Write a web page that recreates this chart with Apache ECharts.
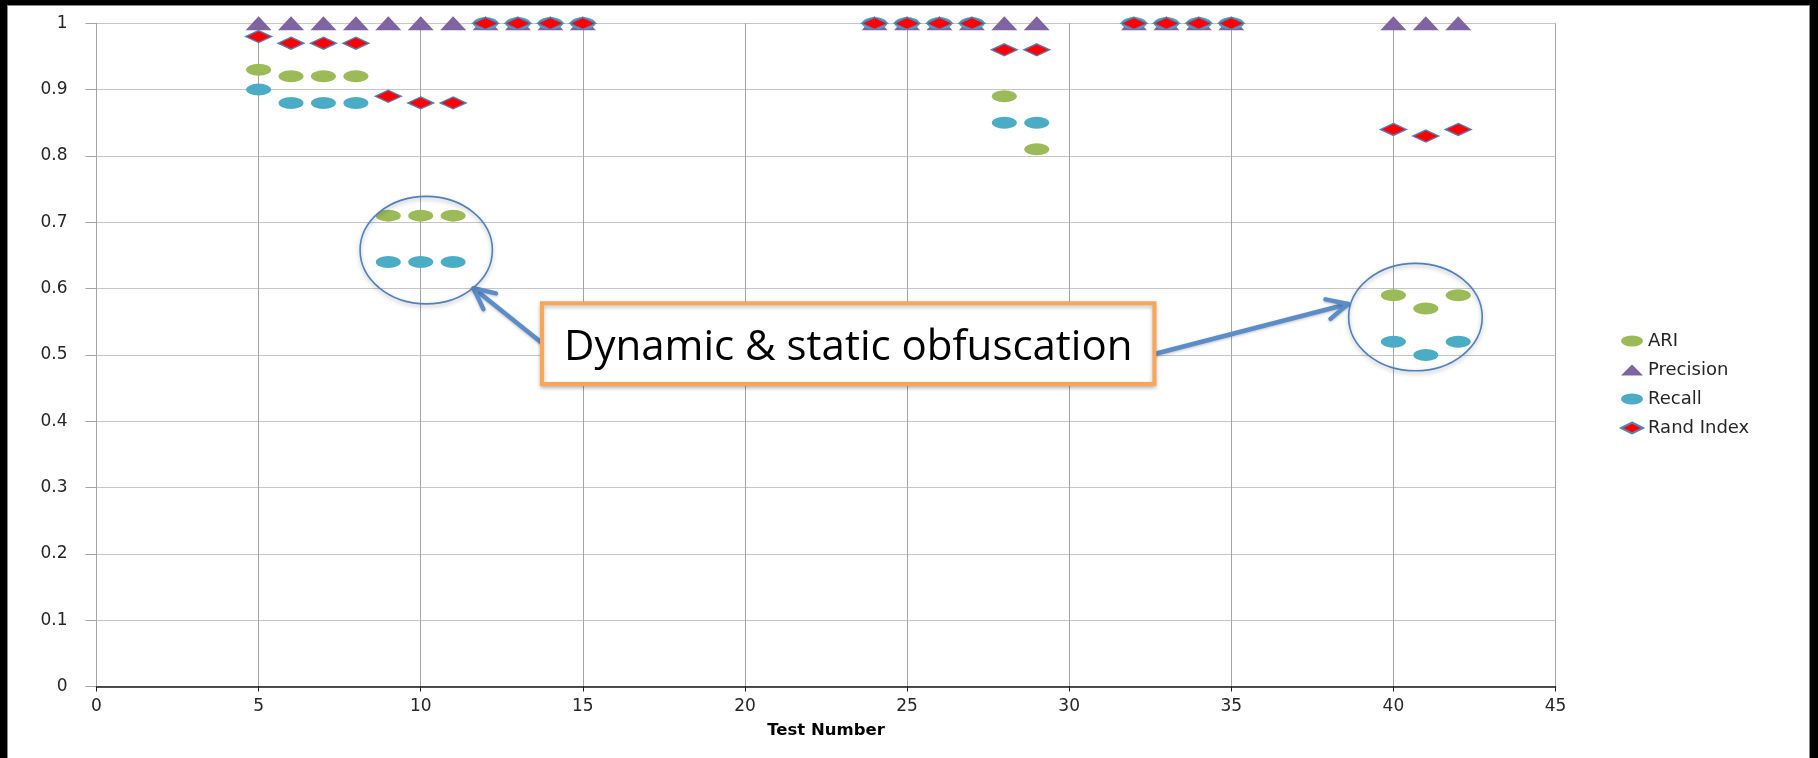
<!DOCTYPE html>
<html><head><meta charset="utf-8">
<script src="https://cdn.jsdelivr.net/npm/echarts@6/dist/echarts.min.js"></script>
<style>
html,body{margin:0;padding:0;background:#000;width:1818px;height:758px;overflow:hidden;}
#frame{position:absolute;left:7px;top:5px;width:1801px;height:753px;background:#fff;border:1px solid #8a8a8a;border-bottom:none;}
#chart{position:absolute;left:0;top:0;width:1818px;height:758px;}
</style></head><body>
<div id="frame"></div><div id="chart"></div>
<script>
// ---- data ----
const testNumbers = [5,6,7,8,9,10,11,12,13,14,15,24,25,26,27,28,29,32,33,34,35,40,41,42];
const ari       = [0.93,0.92,0.92,0.92,0.71,0.71,0.71,1,1,1,1,1,1,1,1,0.89,0.81,1,1,1,1,0.59,0.57,0.59];
const precision = [1,1,1,1,1,1,1,1,1,1,1,1,1,1,1,1,1,1,1,1,1,1,1,1];
const recall    = [0.90,0.88,0.88,0.88,0.64,0.64,0.64,1,1,1,1,1,1,1,1,0.85,0.85,1,1,1,1,0.52,0.50,0.52];
const randIndex = [0.98,0.97,0.97,0.97,0.89,0.88,0.88,1,1,1,1,1,1,1,1,0.96,0.96,1,1,1,1,0.84,0.83,0.84];
const xTickLabels = ['0','5','10','15','20','25','30','35','40','45'];
const yTickLabels = ['0','0.1','0.2','0.3','0.4','0.5','0.6','0.7','0.8','0.9','1'];
const seriesNames = ['ARI','Precision','Recall','Rand Index'];
const calloutText = 'Dynamic & static obfuscation';

// annotation placement in data units
const notes = {
  ellipse1: {cx:10.17, cy:0.658, rx:2.04, ry:0.081},
  ellipse2: {cx:40.68, cy:0.557, rx:2.06, ry:0.081},
  box: {x0:13.74, x1:32.63, y0:0.578, y1:0.456},
  arrow1: {from:[13.75,0.5175], to:[11.63,0.6004]},
  arrow2: {from:[32.60,0.5009], to:[38.60,0.5768]}
};

const pairs = arr => testNumbers.map((t,i)=>[t, arr[i]]);
const axisFont = 'DejaVu Sans';
const ellipseIcon = 'path://M0 5 A10 5 0 1 1 20 5 A10 5 0 1 1 0 5 Z';

const chart = echarts.init(document.getElementById('chart'), null, {renderer:'canvas'});
const option = {
  animation:false,
  grid:{left:96.5, right:262.5, top:23.3, bottom:71.5, containLabel:false},
  xAxis:{
    type:'value', min:0, max:45, interval:5,
    name:'Test Number', nameLocation:'middle', nameGap:36,
    nameTextStyle:{fontFamily:axisFont, fontWeight:'bold', fontSize:16.5, color:'#000'},
    axisLine:{show:true, onZero:false, lineStyle:{color:'#1a1a1a', width:1.5}},
    axisTick:{show:true, length:5, inside:false, lineStyle:{color:'#1a1a1a', width:1}},
    axisLabel:{margin:12, fontFamily:axisFont, fontSize:17, color:'#262626',
      formatter:(v)=>xTickLabels[Math.round(v/5)]},
    splitLine:{show:true, lineStyle:{color:'#a3a3a3', width:1}}
  },
  yAxis:{
    type:'value', min:0, max:1, interval:0.1,
    axisLine:{show:true, lineStyle:{color:'#a3a3a3', width:1}},
    axisTick:{show:true, length:11, inside:false, lineStyle:{color:'#a3a3a3'}},
    axisLabel:{margin:29, fontFamily:axisFont, fontSize:17, color:'#262626',
      formatter:(v)=>yTickLabels[Math.round(v*10)]},
    splitLine:{show:true, lineStyle:{color:'#c6c6c6', width:1}}
  },
  legend:{
    orient:'vertical', left:1615, top:327, itemWidth:22, itemHeight:11, itemGap:11,
    symbolKeepAspect:false,
    textStyle:{fontFamily:axisFont, fontSize:18, color:'#262626', lineHeight:17},
    data:[{name:seriesNames[0], icon:ellipseIcon},{name:seriesNames[1], icon:'triangle'},
          {name:seriesNames[2], icon:ellipseIcon},{name:seriesNames[3], icon:'diamond'}]
  },
  series:[
    {name:seriesNames[0], type:'scatter', data:pairs(ari), symbol:'circle', symbolSize:[25,12],
      itemStyle:{color:'#9BBB59', opacity:1}, emphasis:{disabled:true}},
    {name:seriesNames[1], type:'scatter', data:pairs(precision), symbol:'triangle', symbolSize:[26,14],
      itemStyle:{color:'#8064A2', opacity:1}, emphasis:{disabled:true}},
    {name:seriesNames[2], type:'scatter', data:pairs(recall), symbol:'circle', symbolSize:[25,12],
      itemStyle:{color:'#4BACC6', opacity:1}, emphasis:{disabled:true}},
    {name:seriesNames[3], type:'scatter', data:pairs(randIndex), symbol:'diamond', symbolSize:[26,12],
      itemStyle:{color:'#FF0000', borderColor:'#4F81BD', borderWidth:1.5, opacity:1}, emphasis:{disabled:true}}
  ]
};
chart.setOption(option);

// ---- annotations ----
const px = p => chart.convertToPixel({gridIndex:0}, p);
function ell(e){
  const c = px([e.cx, e.cy]);
  const r = px([e.cx + e.rx, e.cy - e.ry]);
  return {type:'ellipse', z:100, shape:{cx:c[0], cy:c[1], rx:r[0]-c[0], ry:r[1]-c[1]},
    style:{fill:'transparent', stroke:'#4F81BD', lineWidth:1.6, shadowBlur:4, shadowColor:'rgba(0,0,0,0.3)', shadowOffsetY:2}};
}
function arrow(a){
  const t = px(a.from), h = px(a.to);
  const ang = Math.atan2(t[1]-h[1], t[0]-h[0]);
  const L = 23, w = 26*Math.PI/180;
  const p1 = [h[0]+L*Math.cos(ang+w), h[1]+L*Math.sin(ang+w)];
  const p2 = [h[0]+L*Math.cos(ang-w), h[1]+L*Math.sin(ang-w)];
  const st = {stroke:'#5B8DC9', lineWidth:4.5, lineCap:'round', lineJoin:'round', fill:null,
    shadowBlur:3, shadowColor:'rgba(0,0,0,0.25)', shadowOffsetY:1};
  return [
    {type:'line', z:99, shape:{x1:t[0], y1:t[1], x2:h[0], y2:h[1]}, style:st},
    {type:'polyline', z:99, shape:{points:[p1, h, p2]}, style:st}
  ];
}
const b0 = px([notes.box.x0, notes.box.y0]), b1 = px([notes.box.x1, notes.box.y1]);
const graphics = [
  ell(notes.ellipse1), ell(notes.ellipse2),
  ...arrow(notes.arrow1), ...arrow(notes.arrow2),
  {type:'rect', z:101, shape:{x:b0[0], y:b0[1], width:b1[0]-b0[0], height:b1[1]-b0[1]},
    style:{fill:'#fff', stroke:'#F9A65A', lineWidth:4, shadowBlur:4, shadowColor:'rgba(0,0,0,0.25)', shadowOffsetY:2}},
  {type:'text', z:102, style:{text:calloutText, x:(b0[0]+b1[0])/2, y:(b0[1]+b1[1])/2 + 4,
    font:'42px "Open Sans"', fill:'#000', align:'center', verticalAlign:'middle'}}
];
chart.setOption({graphic:graphics});
</script>
</body></html>
